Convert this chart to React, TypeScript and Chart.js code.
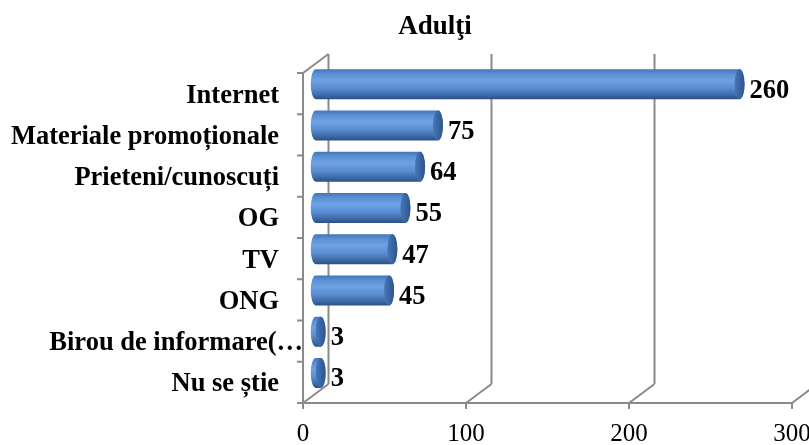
import React, { useEffect, useRef } from "react";
import { Chart, registerables } from "chart.js";

Chart.register(...registerables);

// ---- data ----
const TITLE = "Adulţi";
const categories = [
  "Internet",
  "Materiale promoționale",
  "Prieteni/cunoscuți",
  "OG",
  "TV",
  "ONG",
  "Birou de informare(…",
  "Nu se știe",
];
const values = [260, 75, 64, 55, 47, 45, 3, 3];
const xTickValues = [0, 100, 200, 300];

// ---- style ----
const SERIF = '"Liberation Serif", "Times New Roman", serif';
const GRID = "#8a8a8a";
const DEPTH_DX = 25.5;
const DEPTH_DY = -19;
const CAP_RX = 5;
const TITLE_X = 435;
const TITLE_BASELINE = 34;

function drawCylinder(ctx: CanvasRenderingContext2D, xa: number, xb: number, cy: number, ry: number) {
  const rx = CAP_RX;
  const g = ctx.createLinearGradient(0, cy - ry, 0, cy + ry);
  g.addColorStop(0, "#4274b8");
  g.addColorStop(0.15, "#5a8fd4");
  g.addColorStop(0.38, "#6ea2e4");
  g.addColorStop(0.62, "#5b8fd3");
  g.addColorStop(0.85, "#3f6caa");
  g.addColorStop(1, "#2c5085");
  ctx.beginPath();
  ctx.moveTo(xa, cy - ry);
  ctx.lineTo(xb, cy - ry);
  ctx.ellipse(xb, cy, rx, ry, 0, -Math.PI / 2, Math.PI / 2, false);
  ctx.lineTo(xa, cy + ry);
  ctx.ellipse(xa, cy, rx, ry, 0, Math.PI / 2, (3 * Math.PI) / 2, false);
  ctx.closePath();
  ctx.fillStyle = g;
  ctx.fill();
  // end cap
  const cg = ctx.createLinearGradient(xb - rx, 0, xb + rx, 0);
  cg.addColorStop(0, "#4877b8");
  cg.addColorStop(0.5, "#3a66a3");
  cg.addColorStop(1, "#2d548c");
  ctx.beginPath();
  ctx.ellipse(xb, cy, rx, ry, 0, 0, Math.PI * 2);
  ctx.fillStyle = cg;
  ctx.fill();
}

const frame3d = {
  id: "frame3d",
  beforeDatasetsDraw(chart: any) {
    const { ctx, chartArea: a, scales } = chart;
    const x = scales.x;
    ctx.save();
    ctx.strokeStyle = GRID;
    ctx.lineWidth = 2;
    const line = (x1: number, y1: number, x2: number, y2: number) => {
      ctx.beginPath();
      ctx.moveTo(x1, y1);
      ctx.lineTo(x2, y2);
      ctx.stroke();
    };
    x.ticks.forEach((t: any) => {
      const px = x.getPixelForValue(t.value);
      line(px + DEPTH_DX, a.top + DEPTH_DY, px + DEPTH_DX, a.bottom + DEPTH_DY);
      line(px, a.bottom, px + DEPTH_DX, a.bottom + DEPTH_DY);
      line(px, a.bottom, px, a.bottom + 6);
    });
    line(a.left, a.bottom, a.right, a.bottom);
    line(a.left, a.top, a.left, a.bottom);
    line(a.left, a.top, a.left + DEPTH_DX, a.top + DEPTH_DY);
    const n = categories.length;
    const band = (a.bottom - a.top) / n;
    for (let i = 0; i <= n; i++) {
      const yy = a.top + i * band;
      line(a.left - 6, yy, a.left, yy);
    }
    ctx.restore();
  },
  afterDatasetsDraw(chart: any) {
    const { ctx } = chart;
    const meta = chart.getDatasetMeta(0);
    ctx.save();
    meta.data.forEach((el: any, i: number) => {
      const p = el.getProps(["x", "y", "base", "height"], true);
      const xa = p.base + DEPTH_DX / 2;
      const xb = p.x + DEPTH_DX / 2;
      const cy = p.y + DEPTH_DY / 2;
      drawCylinder(ctx, xa, xb, cy, p.height / 2);
      ctx.fillStyle = "#000";
      ctx.font = `bold 26.5px ${SERIF}`;
      ctx.textAlign = "left";
      ctx.textBaseline = "alphabetic";
      ctx.fillText(String(values[i]), xb + CAP_RX + 5, p.y + 4);
    });
    ctx.restore();
  },
  afterDraw(chart: any) {
    const { ctx, chartArea: a, scales } = chart;
    const { x, y } = scales;
    ctx.save();
    ctx.fillStyle = "#000";
    ctx.textBaseline = "alphabetic";
    // category labels
    ctx.font = `bold 26.5px ${SERIF}`;
    ctx.textAlign = "right";
    categories.forEach((lab, i) => {
      const yc = y.getPixelForValue(i);
      const truncated = lab.endsWith("…");
      ctx.fillText(lab, truncated ? a.left : a.left - 24, yc + 9);
    });
    // x tick labels
    ctx.font = `25px ${SERIF}`;
    ctx.textAlign = "center";
    x.ticks.forEach((t: any) => {
      ctx.fillText(String(t.value), x.getPixelForValue(t.value), 441);
    });
    // title
    ctx.font = `bold 27px ${SERIF}`;
    ctx.textAlign = "center";
    ctx.fillText(TITLE, TITLE_X, TITLE_BASELINE);
    ctx.restore();
  },
};

export default function App() {
  const ref = useRef<HTMLCanvasElement | null>(null);
  useEffect(() => {
    if (!ref.current) return;
    const chart = new Chart(ref.current, {
      type: "bar",
      data: {
        labels: categories,
        datasets: [
          {
            data: values,
            backgroundColor: "rgba(0,0,0,0)",
            borderWidth: 0,
            barThickness: 30,
          },
        ],
      },
      options: {
        indexAxis: "y",
        animation: false,
        responsive: true,
        maintainAspectRatio: false,
        devicePixelRatio: 1,
        layout: { padding: { top: 73, right: 17, left: 0, bottom: 0 } },
        plugins: {
          legend: { display: false },
          title: { display: false },
          tooltip: { enabled: false },
        },
        scales: {
          x: {
            type: "linear",
            min: xTickValues[0],
            max: xTickValues[xTickValues.length - 1],
            afterBuildTicks: (s: any) => {
              s.ticks = xTickValues.map((v) => ({ value: v }));
            },
            ticks: { display: false },
            grid: { display: false },
            border: { display: false },
            afterFit: (s: any) => {
              s.height = 42;
              s.paddingLeft = 0;
              s.paddingRight = 0;
            },
          },
          y: {
            type: "category",
            ticks: { display: false },
            grid: { display: false },
            border: { display: false },
            afterFit: (s: any) => {
              s.width = 303;
              s.paddingTop = 0;
              s.paddingBottom = 0;
            },
          },
        },
      } as any,
      plugins: [frame3d],
    });
    return () => chart.destroy();
  }, []);
  return (
    <div style={{ position: "fixed", left: 0, top: 0, width: 809, height: 445, background: "#fff" }}>
      <canvas ref={ref} />
    </div>
  );
}
